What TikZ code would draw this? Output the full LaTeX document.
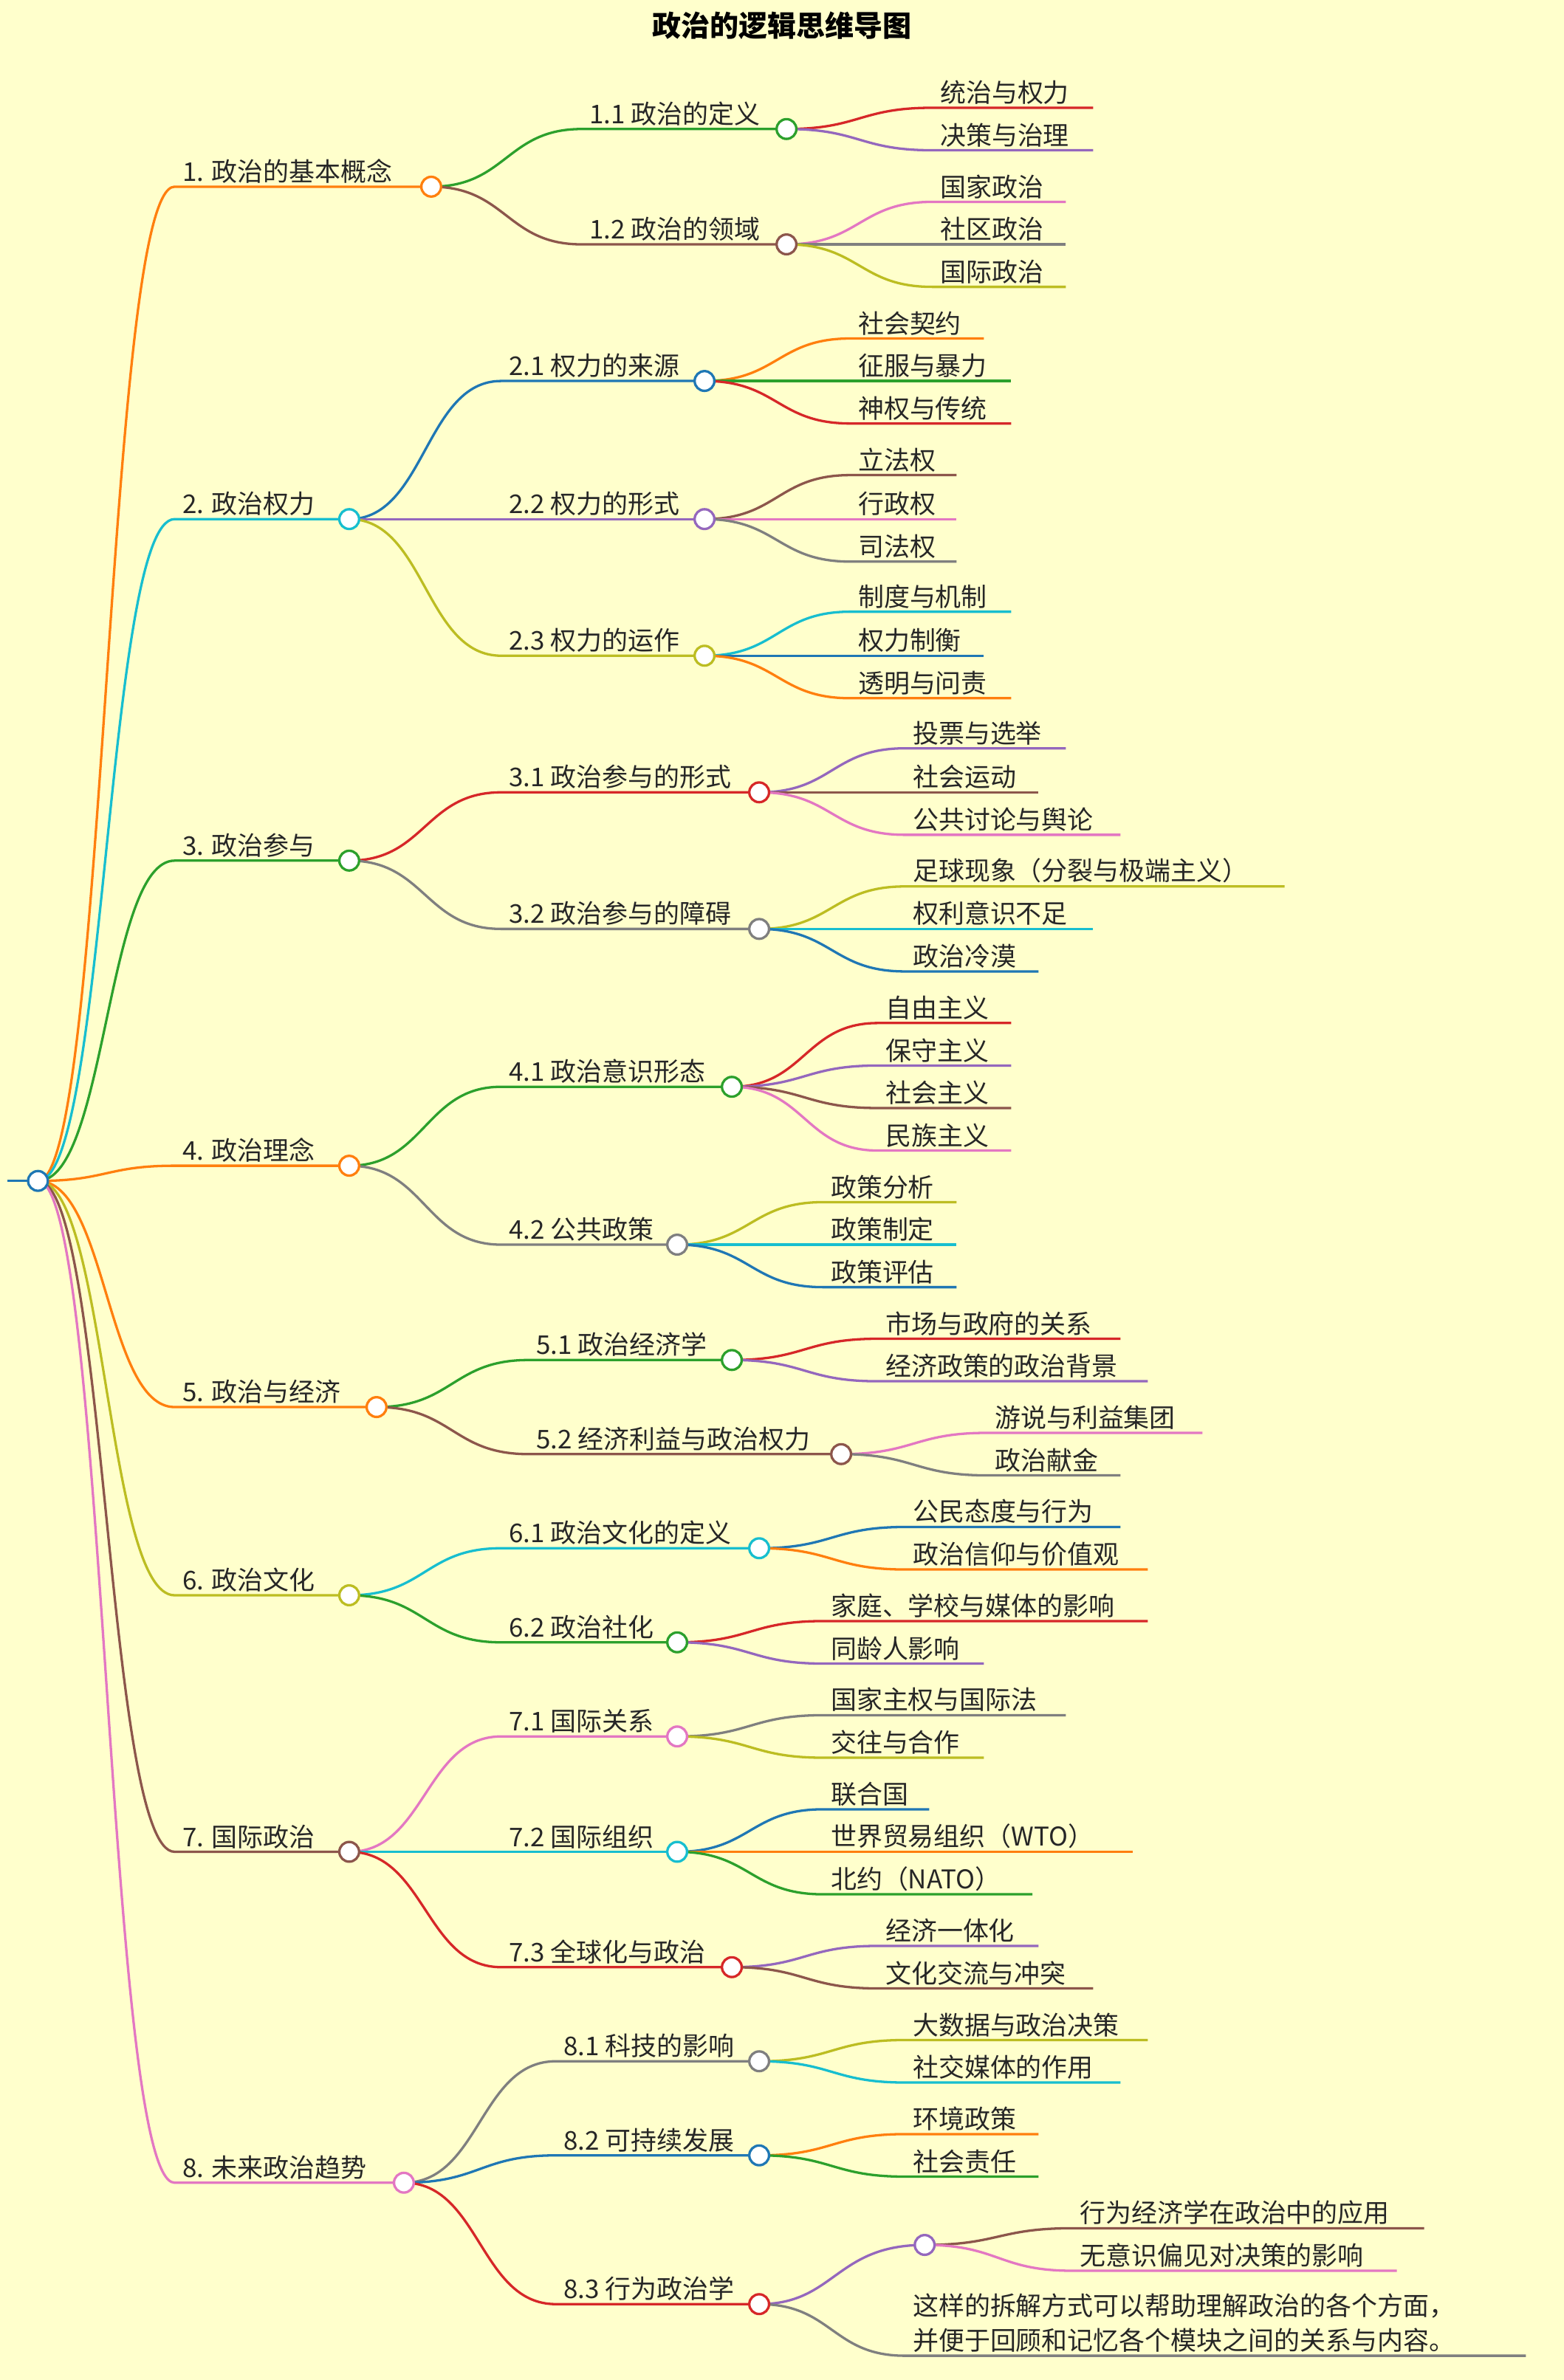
\documentclass[tikz,border=0pt]{standalone}
\usepackage{fontspec}
\setmainfont{Noto Sans CJK SC}
\definecolor{bg}{HTML}{FFFFCC}
\definecolor{cO}{HTML}{FF7F0E}\definecolor{cG}{HTML}{2CA02C}\definecolor{cR}{HTML}{D62728}
\definecolor{cP}{HTML}{9467BD}\definecolor{cB}{HTML}{8C564B}\definecolor{cK}{HTML}{E377C2}
\definecolor{cY}{HTML}{7F7F7F}\definecolor{cL}{HTML}{BCBD22}\definecolor{cC}{HTML}{17BECF}
\definecolor{cU}{HTML}{1F77B4}
\newcommand\edge[7]{%
\draw[#6,lw] (#1,#2) .. controls ({(#1+#3)/2},#2) and ({(#1+#3)/2},#4) .. (#3,#4) -- (#5,#4);
\node[txt] at ({#3+3},#4) {#7};}
\newcommand\cnode[3]{\draw[#3,lw,fill=white] (#1,#2) circle (6.5);}
\begin{document}
\begin{tikzpicture}[x=1pt,y=-1pt,
 lw/.style={line width=1.6pt},
 txt/.style={anchor=south west,inner sep=2pt,font=\fontsize{17}{21}\selectfont,text=black!85}]
\useasboundingbox (0,0) rectangle (1030,1568);
\fill[bg] (0,0) rectangle (1030,1568);
\node[font=\fontsize{19}{23}\selectfont\bfseries] (title) at (515,17) {政治的逻辑思维导图};
\draw[cU,lw] (5,778) -- (25,778);
% level 1
\edge{25}{778}{115}{123}{284}{cO}{1. 政治的基本概念}
\edge{25}{778}{115}{342}{230}{cC}{2. 政治权力}
\edge{25}{778}{115}{567}{230}{cG}{3. 政治参与}
\edge{25}{778}{115}{768}{230}{cO}{4. 政治理念}
\edge{25}{778}{115}{927}{248}{cO}{5. 政治与经济}
\edge{25}{778}{115}{1051}{230}{cL}{6. 政治文化}
\edge{25}{778}{115}{1220}{230}{cB}{7. 国际政治}
\edge{25}{778}{115}{1438}{266}{cK}{8. 未来政治趋势}
% level 2
\edge{284}{123}{383}{85}{518}{cG}{1.1 政治的定义}
\edge{284}{123}{383}{161}{518}{cB}{1.2 政治的领域}
\edge{230}{342}{330}{251}{464}{cU}{2.1 权力的来源}
\edge{230}{342}{330}{342}{464}{cP}{2.2 权力的形式}
\edge{230}{342}{330}{432}{464}{cL}{2.3 权力的运作}
\edge{230}{567}{330}{522}{500}{cR}{3.1 政治参与的形式}
\edge{230}{567}{330}{612}{500}{cY}{3.2 政治参与的障碍}
\edge{230}{768}{330}{716}{482}{cG}{4.1 政治意识形态}
\edge{230}{768}{330}{820}{446}{cY}{4.2 公共政策}
\edge{248}{927}{348}{896}{482}{cG}{5.1 政治经济学}
\edge{248}{927}{348}{958}{554}{cB}{5.2 经济利益与政治权力}
\edge{230}{1051}{330}{1020}{500}{cC}{6.1 政治文化的定义}
\edge{230}{1051}{330}{1082}{446}{cG}{6.2 政治社化}
\edge{230}{1220}{330}{1144}{446}{cK}{7.1 国际关系}
\edge{230}{1220}{330}{1220}{446}{cC}{7.2 国际组织}
\edge{230}{1220}{330}{1296}{482}{cR}{7.3 全球化与政治}
\edge{266}{1438}{366}{1358}{500}{cY}{8.1 科技的影响}
\edge{266}{1438}{366}{1420}{500}{cU}{8.2 可持续发展}
\edge{266}{1438}{366}{1518}{500}{cR}{8.3 行为政治学}
% level 3
\edge{518}{85}{614}{71}{720}{cR}{统治与权力}
\edge{518}{85}{614}{99}{720}{cP}{决策与治理}
\edge{518}{161}{614}{133}{702}{cK}{国家政治}
\edge{518}{161}{614}{161}{702}{cY}{社区政治}
\edge{518}{161}{614}{189}{702}{cL}{国际政治}
\edge{464}{251}{560}{223}{648}{cO}{社会契约}
\edge{464}{251}{560}{251}{666}{cG}{征服与暴力}
\edge{464}{251}{560}{279}{666}{cR}{神权与传统}
\edge{464}{342}{560}{313}{630}{cB}{立法权}
\edge{464}{342}{560}{342}{630}{cK}{行政权}
\edge{464}{342}{560}{370}{630}{cY}{司法权}
\edge{464}{432}{560}{403}{666}{cC}{制度与机制}
\edge{464}{432}{560}{432}{648}{cU}{权力制衡}
\edge{464}{432}{560}{460}{666}{cO}{透明与问责}
\edge{500}{522}{596}{493}{702}{cP}{投票与选举}
\edge{500}{522}{596}{522}{684}{cB}{社会运动}
\edge{500}{522}{596}{550}{738}{cK}{公共讨论与舆论}
\edge{500}{612}{596}{584}{846}{cL}{足球现象（分裂与极端主义）}
\edge{500}{612}{596}{612}{720}{cC}{权利意识不足}
\edge{500}{612}{596}{640}{684}{cU}{政治冷漠}
\edge{482}{716}{578}{674}{666}{cR}{自由主义}
\edge{482}{716}{578}{702}{666}{cP}{保守主义}
\edge{482}{716}{578}{730}{666}{cB}{社会主义}
\edge{482}{716}{578}{758}{666}{cK}{民族主义}
\edge{446}{820}{542}{792}{630}{cL}{政策分析}
\edge{446}{820}{542}{820}{630}{cC}{政策制定}
\edge{446}{820}{542}{848}{630}{cU}{政策评估}
\edge{482}{896}{578}{882}{738}{cR}{市场与政府的关系}
\edge{482}{896}{578}{910}{756}{cP}{经济政策的政治背景}
\edge{554}{958}{650}{944}{792}{cK}{游说与利益集团}
\edge{554}{958}{650}{972}{738}{cY}{政治献金}
\edge{500}{1020}{596}{1006}{738}{cU}{公民态度与行为}
\edge{500}{1020}{596}{1034}{756}{cO}{政治信仰与价值观}
\edge{446}{1082}{542}{1068}{756}{cR}{家庭、学校与媒体的影响}
\edge{446}{1082}{542}{1096}{648}{cP}{同龄人影响}
\edge{446}{1144}{542}{1130}{702}{cY}{国家主权与国际法}
\edge{446}{1144}{542}{1158}{648}{cL}{交往与合作}
\edge{446}{1220}{542}{1192}{612}{cU}{联合国}
\edge{446}{1220}{542}{1220}{746}{cO}{世界贸易组织（WTO）}
\edge{446}{1220}{542}{1248}{680}{cG}{北约（NATO）}
\edge{482}{1296}{578}{1282}{684}{cP}{经济一体化}
\edge{482}{1296}{578}{1310}{720}{cB}{文化交流与冲突}
\edge{500}{1358}{596}{1344}{756}{cL}{大数据与政治决策}
\edge{500}{1358}{596}{1372}{738}{cC}{社交媒体的作用}
\edge{500}{1420}{596}{1406}{684}{cO}{环境政策}
\edge{500}{1420}{596}{1434}{684}{cG}{社会责任}
\draw[cP,lw] (500,1518) .. controls (550,1518) and (550,1479) .. (609,1479);
\edge{609}{1479}{706}{1468}{938}{cB}{行为经济学在政治中的应用}
\edge{609}{1479}{706}{1496}{920}{cK}{无意识偏见对决策的影响}
\draw[cY,lw] (500,1518) .. controls (548,1518) and (548,1552) .. (596,1552) -- (1005,1552);
\node[txt,align=left,font=\fontsize{17}{23}\selectfont] (note) at (599,1552) {这样的拆解方式可以帮助理解政治的各个方面，\\并便于回顾和记忆各个模块之间的关系与内容。};
% circles
\cnode{25}{778}{cU}
\cnode{284}{123}{cO}\cnode{230}{342}{cC}\cnode{230}{567}{cG}\cnode{230}{768}{cO}
\cnode{248}{927}{cO}\cnode{230}{1051}{cL}\cnode{230}{1220}{cB}\cnode{266}{1438}{cK}
\cnode{518}{85}{cG}\cnode{518}{161}{cB}\cnode{464}{251}{cU}\cnode{464}{342}{cP}\cnode{464}{432}{cL}
\cnode{500}{522}{cR}\cnode{500}{612}{cY}\cnode{482}{716}{cG}\cnode{446}{820}{cY}
\cnode{482}{896}{cG}\cnode{554}{958}{cB}\cnode{500}{1020}{cC}\cnode{446}{1082}{cG}
\cnode{446}{1144}{cK}\cnode{446}{1220}{cC}\cnode{482}{1296}{cR}
\cnode{500}{1358}{cY}\cnode{500}{1420}{cU}\cnode{500}{1518}{cR}\cnode{609}{1479}{cP}
\end{tikzpicture}
\end{document}
